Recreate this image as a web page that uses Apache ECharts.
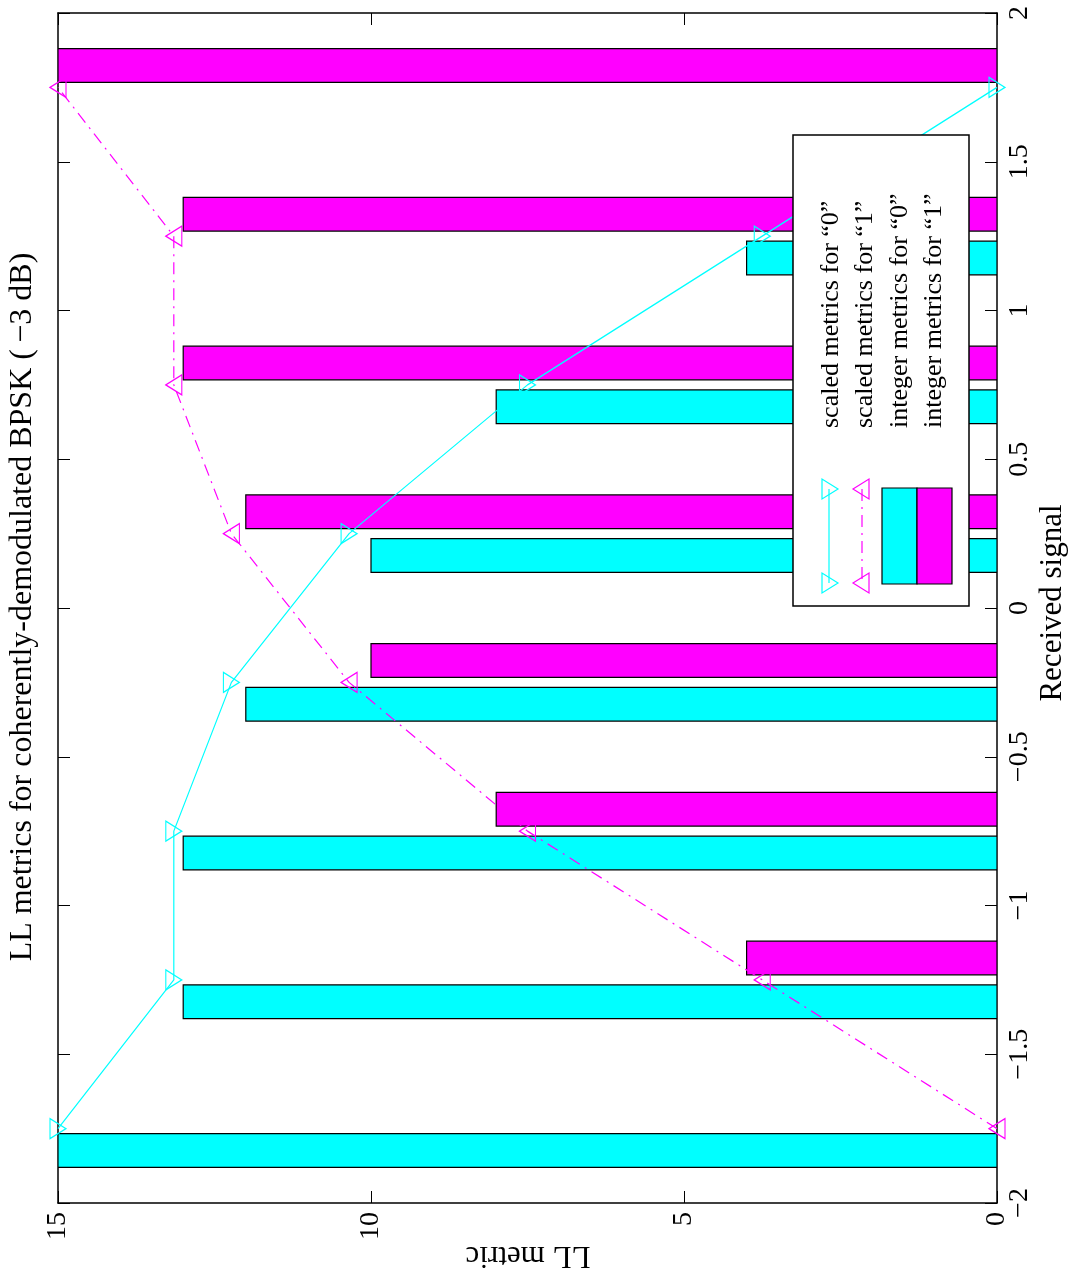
<!DOCTYPE html>
<html>
<head>
<meta charset="utf-8">
<script src="https://cdn.jsdelivr.net/npm/echarts@6/dist/echarts.min.js"></script>
<style>
html,body{margin:0;padding:0;background:#fff;}
#chart{width:1074px;height:1280px;}
</style>
</head>
<body>
<div id="chart"></div>
<script>
// ---- data ----
const signals = [-1.75, -1.25, -0.75, -0.25, 0.25, 0.75, 1.25, 1.75];
const scaled0 = [15, 13.15, 13.15, 12.23, 10.35, 7.5, 3.75, 0];
const scaled1 = [0, 3.75, 7.5, 10.35, 12.23, 13.15, 13.15, 15];
const integer0 = [15, 13, 13, 12, 10, 8, 4, 0];
const integer1 = [0, 4, 8, 10, 12, 13, 13, 15];
const metricTicks = [0, 5, 10, 15];
const signalTicks = [-2, -1.5, -1, -0.5, 0, 0.5, 1, 1.5, 2];
const seriesNames = ['scaled metrics for \u201c0\u201d', 'scaled metrics for \u201c1\u201d',
                     'integer metrics for \u201c0\u201d', 'integer metrics for \u201c1\u201d'];
const titleText = 'LL metrics for coherently-demodulated BPSK (\u2009\u22123 dB)';
const xName = 'LL metric';
const yName = 'Received signal';

// ---- style ----
const FONT = 'Liberation Serif';
const CYAN = '#00ffff';
const MAGENTA = '#ff00ff';
const DASHDOT = [12, 6, 2, 6];
const BAR_W = 0.113;
const BAR_OFF = 0.0735;
const ZL = 100;

const chart = echarts.init(document.getElementById('chart'), null, {renderer: 'canvas'});

function fmt(v) { return v < 0 ? '\u2212' + Math.abs(v) : String(v); }

function barSeries(name, values, offset, color) {
  return {
    name: name,
    type: 'custom',
    z: 2,
    clip: true,
    encode: {x: 0, y: 1},
    data: values.map((v, i) => [v, signals[i]]),
    renderItem: function (params, api) {
      const v = api.value(0), s = api.value(1);
      if (!v) return null;
      const p0 = api.coord([0, s + offset + BAR_W / 2]);
      const p1 = api.coord([v, s + offset - BAR_W / 2]);
      return {
        type: 'rect',
        shape: {x: Math.min(p0[0], p1[0]), y: Math.min(p0[1], p1[1]),
                width: Math.abs(p1[0] - p0[0]), height: Math.abs(p1[1] - p0[1])},
        style: {fill: color, stroke: '#000', lineWidth: 1.2}
      };
    }
  };
}

function lineSeries(name, values, color, rot, dash) {
  return {
    name: name,
    type: 'line',
    z: 3,
    data: values.map((v, i) => [v, signals[i]]),
    symbol: 'triangle',
    symbolSize: [20, 16],
    symbolRotate: rot,
    showAllSymbol: true,
    itemStyle: {color: 'rgba(0,0,0,0)', borderColor: color, borderWidth: 1.2},
    lineStyle: {color: color, width: 1.2, type: dash},
    emphasis: {disabled: true},
    animation: false
  };
}

const axisCommon = {
  type: 'value',
  axisLine: {show: true, onZero: false, lineStyle: {color: '#000', width: 1.5}},
  axisTick: {show: true, inside: true, length: 12, lineStyle: {color: '#000', width: 1}},
  splitLine: {show: false}
};

const tickFont = {fontFamily: FONT, fontSize: 28, color: '#000'};

function txt(text, x, y, rot, size, align) {
  return {
    type: 'text', x: x, y: y, rotation: rot, z: ZL + 1,
    style: {text: text, fontFamily: FONT, fontSize: size, fill: '#000',
            align: align, verticalAlign: 'middle'}
  };
}

const option = {
  animation: false,
  backgroundColor: '#fff',
  grid: {left: 58, right: 77, top: 13, bottom: 77, containLabel: false},
  xAxis: [
    Object.assign({}, axisCommon, {
      position: 'bottom', inverse: true, min: 0, max: 15, interval: 5,
      axisLabel: Object.assign({rotate: 90, margin: 9, formatter: fmt}, tickFont)
    }),
    Object.assign({}, axisCommon, {
      position: 'top', inverse: true, min: 0, max: 15, interval: 5,
      axisLabel: {show: false}
    })
  ],
  yAxis: [
    Object.assign({}, axisCommon, {
      position: 'right', min: -2, max: 2, interval: 0.5,
      axisLabel: Object.assign({rotate: 90, margin: 9, formatter: fmt}, tickFont)
    }),
    Object.assign({}, axisCommon, {
      position: 'left', min: -2, max: 2, interval: 0.5,
      axisLabel: {show: false}
    })
  ],
  series: [
    barSeries(seriesNames[2], integer0, -BAR_OFF, CYAN),
    barSeries(seriesNames[3], integer1, BAR_OFF, MAGENTA),
    lineSeries(seriesNames[0], scaled0, CYAN, -90, 'solid'),
    lineSeries(seriesNames[1], scaled1, MAGENTA, 90, DASHDOT)
  ],
  graphic: [
    txt(titleText, 23, 607, Math.PI / 2, 32, 'center'),
    txt(yName, 1053, 603, Math.PI / 2, 31, 'center'),
    txt(xName, 528, 1255, Math.PI, 31, 'center'),
    {type: 'rect', z: ZL, shape: {x: 793, y: 135, width: 176, height: 471},
     style: {fill: '#fff', stroke: '#000', lineWidth: 1.5}},
    {type: 'line', z: ZL + 1, shape: {x1: 829, y1: 489, x2: 829, y2: 583},
     style: {stroke: CYAN, lineWidth: 1.2}},
    {type: 'polygon', z: ZL + 1, shape: {points: [[822, 479], [822, 499], [838, 489]]},
     style: {fill: 'none', stroke: CYAN, lineWidth: 1.2}},
    {type: 'polygon', z: ZL + 1, shape: {points: [[822, 573], [822, 593], [838, 583]]},
     style: {fill: 'none', stroke: CYAN, lineWidth: 1.2}},
    {type: 'line', z: ZL + 1, shape: {x1: 862, y1: 489, x2: 862, y2: 583},
     style: {stroke: MAGENTA, lineWidth: 1.2, lineDash: DASHDOT}},
    {type: 'polygon', z: ZL + 1, shape: {points: [[869, 479], [869, 499], [853, 489]]},
     style: {fill: 'none', stroke: MAGENTA, lineWidth: 1.2}},
    {type: 'polygon', z: ZL + 1, shape: {points: [[869, 573], [869, 593], [853, 583]]},
     style: {fill: 'none', stroke: MAGENTA, lineWidth: 1.2}},
    {type: 'rect', z: ZL + 1, shape: {x: 882, y: 488, width: 35, height: 96},
     style: {fill: CYAN, stroke: '#000', lineWidth: 1.2}},
    {type: 'rect', z: ZL + 1, shape: {x: 917, y: 488, width: 35, height: 96},
     style: {fill: MAGENTA, stroke: '#000', lineWidth: 1.2}},
    txt(seriesNames[0], 831, 428, Math.PI / 2, 26, 'left'),
    txt(seriesNames[1], 865.5, 428, Math.PI / 2, 26, 'left'),
    txt(seriesNames[2], 900, 428, Math.PI / 2, 26, 'left'),
    txt(seriesNames[3], 934.5, 428, Math.PI / 2, 26, 'left')
  ]
};

chart.setOption(option);
</script>
</body>
</html>
